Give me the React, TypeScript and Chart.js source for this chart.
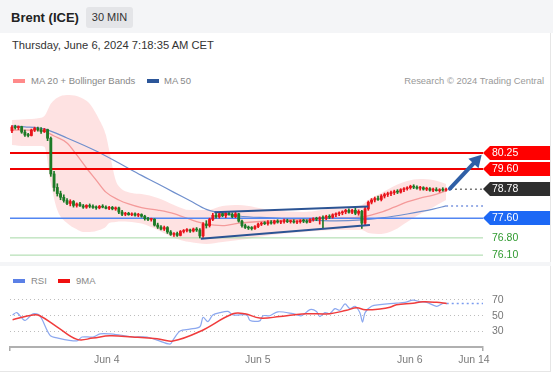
import React, { useEffect, useRef } from "react";
import { Chart, registerables } from "chart.js";

Chart.register(...registerables);

const FONT = "'Liberation Sans', Arial, Helvetica, sans-serif";

// ---------- x axis: 30-minute bar index ----------
const X_MIN = -0.6;
const X_MAX = 145.4;
const X_TICK_POS = [29.3, 75.9, 122.8, 142.6];
const X_TICK_LABELS = ["Jun 4", "Jun 5", "Jun 6", "Jun 14"];

// ---------- price axis ----------
const Y_MIN = 75.82;
const Y_MAX = 82.81;

// ---------- candles ----------
const OPEN = [
  81.15, 81.30, 81.28, 81.32, 81.10, 80.98, 80.96, 81.18, 81.25, 81.20, 81.12,
  81.20, 80.85, 79.40, 78.85, 78.60, 78.45, 78.32, 78.20, 78.28, 78.12,
  78.18, 78.10, 78.05, 78.12, 78.08, 78.04, 78.02, 78.08, 78.05, 78.00,
  78.04, 77.98, 78.02, 77.85, 77.76, 77.80, 77.74, 77.78, 77.72, 77.75,
  77.68, 77.58, 77.55, 77.56, 77.32, 77.24, 77.16, 77.22, 77.04, 76.94,
  76.98, 76.90, 77.06, 77.10, 77.12, 77.08, 77.16, 77.12, 76.88, 77.36,
  77.30, 77.55, 77.72, 77.66, 77.78, 77.70, 77.80, 77.76, 77.66, 77.78,
  77.48, 77.30, 77.22, 77.20, 77.18, 77.26, 77.36, 77.40, 77.38, 77.44,
  77.40, 77.48, 77.44, 77.46, 77.50, 77.46, 77.48, 77.44, 77.46, 77.50,
  77.48, 77.44, 77.54, 77.58, 77.56, 77.62, 77.60, 77.68, 77.64, 77.74,
  77.78, 77.82, 77.86, 77.92, 77.84, 77.92, 77.80, 77.88, 77.40, 77.98,
  78.25, 78.34, 78.40, 78.36, 78.50, 78.56, 78.60, 78.64, 78.68, 78.66,
  78.76, 78.80, 78.84, 78.90, 78.86, 78.82, 78.84, 78.78, 78.80, 78.74,
  78.76, 78.72, 78.76, 78.74,
];
const HIGH = [
  81.36, 81.38, 81.35, 81.34, 81.18, 81.05, 81.22, 81.30, 81.30, 81.28, 81.25,
  81.22, 80.90, 79.50, 79.00, 78.70, 78.55, 78.40, 78.35, 78.32, 78.22,
  78.25, 78.16, 78.15, 78.18, 78.14, 78.10, 78.12, 78.15, 78.10, 78.08,
  78.08, 78.06, 78.05, 77.92, 77.84, 77.84, 77.82, 77.82, 77.80, 77.78,
  77.72, 77.64, 77.60, 77.58, 77.40, 77.30, 77.28, 77.26, 77.10, 77.02,
  77.04, 77.10, 77.14, 77.18, 77.16, 77.20, 77.22, 77.18, 77.42, 77.50,
  77.60, 77.80, 77.84, 77.82, 77.86, 77.84, 77.88, 77.82, 77.84, 77.80,
  77.52, 77.36, 77.28, 77.26, 77.30, 77.40, 77.44, 77.46, 77.50, 77.50,
  77.52, 77.54, 77.50, 77.56, 77.56, 77.52, 77.54, 77.50, 77.54, 77.56,
  77.54, 77.58, 77.62, 77.64, 77.66, 77.70, 77.72, 77.74, 77.78, 77.82,
  77.86, 77.90, 77.96, 77.98, 77.96, 78.00, 77.94, 77.92, 78.05, 78.30,
  78.40, 78.46, 78.50, 78.56, 78.62, 78.66, 78.70, 78.74, 78.76, 78.80,
  78.84, 78.88, 78.94, 78.96, 78.92, 78.90, 78.88, 78.86, 78.84, 78.82,
  78.84, 78.80, 78.84, 78.82,
];
const LOW = [
  81.08, 81.22, 81.20, 81.05, 80.92, 80.90, 80.94, 81.12, 81.14, 81.05, 81.08,
  80.75, 79.30, 78.70, 78.50, 78.35, 78.25, 78.15, 78.10, 78.05, 78.05,
  78.08, 78.00, 78.00, 78.02, 78.00, 77.96, 77.98, 78.02, 77.98, 77.95,
  77.94, 77.92, 77.78, 77.70, 77.70, 77.72, 77.70, 77.68, 77.66, 77.64,
  77.52, 77.50, 77.48, 77.28, 77.18, 77.12, 77.10, 76.98, 76.90, 76.86,
  76.86, 76.88, 77.00, 77.04, 77.02, 77.04, 77.06, 76.80, 76.82, 77.20,
  77.24, 77.50, 77.60, 77.60, 77.66, 77.62, 77.72, 77.62, 77.62, 77.44,
  77.24, 77.18, 77.14, 77.12, 77.14, 77.22, 77.30, 77.34, 77.32, 77.36,
  77.36, 77.40, 77.38, 77.40, 77.42, 77.40, 77.40, 77.38, 77.40, 77.42,
  77.40, 77.42, 77.48, 77.50, 77.36, 77.20, 77.54, 77.58, 77.60, 77.66,
  77.70, 77.74, 77.78, 77.80, 77.78, 77.74, 77.72, 77.18, 77.32, 77.92,
  78.18, 78.26, 78.32, 78.30, 78.42, 78.48, 78.52, 78.56, 78.60, 78.62,
  78.68, 78.74, 78.78, 78.80, 78.78, 78.74, 78.74, 78.72, 78.70, 78.68,
  78.70, 78.66, 78.70, 78.70,
];
const CLOSE = [
  81.30, 81.28, 81.32, 81.10, 80.98, 80.96, 81.18, 81.25, 81.20, 81.12, 81.20,
  80.85, 79.40, 78.85, 78.60, 78.45, 78.32, 78.20, 78.28, 78.12, 78.18,
  78.10, 78.05, 78.12, 78.08, 78.04, 78.02, 78.08, 78.05, 78.00, 78.04,
  77.98, 78.02, 77.85, 77.76, 77.80, 77.74, 77.78, 77.72, 77.75, 77.68,
  77.58, 77.55, 77.56, 77.32, 77.24, 77.16, 77.22, 77.04, 76.94, 76.98,
  76.90, 77.06, 77.10, 77.12, 77.08, 77.16, 77.12, 76.88, 77.36, 77.30,
  77.55, 77.72, 77.66, 77.78, 77.70, 77.80, 77.76, 77.66, 77.78, 77.48,
  77.30, 77.22, 77.20, 77.18, 77.26, 77.36, 77.40, 77.38, 77.44, 77.40,
  77.48, 77.44, 77.46, 77.50, 77.46, 77.48, 77.44, 77.46, 77.50, 77.48,
  77.44, 77.54, 77.58, 77.56, 77.62, 77.60, 77.68, 77.64, 77.74, 77.78,
  77.82, 77.86, 77.92, 77.84, 77.92, 77.80, 77.88, 77.40, 77.98, 78.25,
  78.34, 78.40, 78.36, 78.50, 78.56, 78.60, 78.64, 78.68, 78.66, 78.76,
  78.80, 78.84, 78.90, 78.86, 78.82, 78.84, 78.78, 78.80, 78.74, 78.76,
  78.72, 78.76, 78.74, 78.78,
];

// ---------- Bollinger bands (MA 20) ----------
const BAND_X = [0, 4, 8, 10, 12, 14, 17, 20, 22, 24, 27, 29, 30, 32, 33, 37, 40, 45, 50, 55, 60, 65, 70, 80, 90, 100, 108, 110, 114, 118, 122, 126, 130, 134];
const BAND_UPPER = [81.59, 81.62, 81.66, 81.75, 82.25, 82.50, 82.61, 82.57, 82.45, 82.25, 81.59, 80.98, 80.37, 79.15, 78.90, 78.62, 78.58, 78.42, 78.14, 77.93, 77.93, 78.10, 78.14, 77.93, 77.85, 78.01, 78.14, 78.34, 78.62, 78.91, 79.11, 79.19, 79.15, 78.99];
const BAND_LOWER = [80.58, 80.53, 80.53, 80.50, 79.03, 77.93, 77.40, 77.15, 77.04, 77.04, 77.12, 77.25, 77.40, 77.45, 77.47, 77.45, 77.38, 77.12, 76.80, 76.63, 76.55, 76.63, 76.71, 76.92, 77.04, 77.12, 77.12, 77.00, 76.96, 77.12, 77.45, 77.77, 78.05, 78.34];

const MA20_X = [0, 4, 8, 10, 13, 17, 20, 23, 26, 29, 33, 36, 40, 45, 50, 55, 60, 65, 70, 80, 90, 100, 108, 114, 118, 122, 126, 130, 134];
const MA20 = [81.18, 81.18, 81.18, 81.14, 80.94, 80.66, 80.17, 79.64, 79.15, 78.66, 78.34, 78.18, 78.03, 77.93, 77.79, 77.55, 77.36, 77.30, 77.40, 77.49, 77.55, 77.60, 77.65, 77.85, 78.05, 78.26, 78.42, 78.54, 78.71];

const MA50_X = [0, 4, 8, 10, 17, 26, 33, 40, 45, 50, 55, 60, 63, 70, 80, 90, 100, 108, 114, 122, 130, 134];
const MA50 = [81.35, 81.31, 81.27, 81.23, 80.86, 80.33, 79.84, 79.34, 79.00, 78.65, 78.31, 77.96, 77.85, 77.69, 77.61, 77.53, 77.49, 77.53, 77.61, 77.77, 77.97, 78.10];

// ---------- levels ----------
const RESISTANCES = [80.25, 79.6];
const PIVOT = 77.6;
const SUPPORTS = [76.8, 76.1];
const LAST_PRICE = 78.78;

// ---------- channel & arrow ----------
const CH_UP_X = [62.5, 110];
const CH_UP = [77.84, 78.08];
const CH_LO_X = [58.3, 110.5];
const CH_LO = [76.76, 77.32];
const ARROW_X = [135.2, 143.3];
const ARROW_Y = [78.8, 79.94];

// ---------- RSI ----------
const RSI_X = [0.2, 1.5, 4.0, 6.5, 8.6, 11.7, 14.2, 20.1, 21.6, 25, 27.2, 30.2, 33.3, 37.3, 41.7, 44.8, 48.8, 49.7, 51.9, 54.9, 58, 59, 60.5, 62, 64.2, 66.7, 68.2, 72.5, 73.5, 76.5, 77.5, 79.6, 82.1, 86.7, 89.4, 92, 94, 95, 96.6, 98.1, 99.7, 101.2, 102.8, 104.3, 105.9, 107.4, 108.2, 109, 111, 113.6, 116.7, 118.7, 121.3, 123.8, 125.9, 128, 131.1, 133, 134.2];
const RSI = [51, 54, 44, 52.5, 50, 25.5, 21.6, 18, 23, 23, 27, 27, 25.5, 23, 23, 19, 14, 19, 30.6, 33, 36, 48, 42.6, 51, 54, 55.5, 51, 51, 44, 43.5, 50, 50, 55, 52.6, 50, 57.7, 55.5, 49, 54, 52.6, 59, 57, 65, 59, 62, 53.9, 42, 54, 62, 64, 65.5, 66, 67, 69.7, 68, 67, 62, 65.5, 65.5];
const RSI_MA_X = [0.2, 6.5, 8.6, 13.9, 20.1, 25, 30.2, 37.3, 44.8, 49.7, 58, 68.2, 71.9, 76.5, 82.7, 86.7, 91, 98.1, 103.3, 106.4, 109, 113.6, 116.7, 118.7, 123.8, 126.9, 131.1, 134.2];
const RSI_MA = [45, 51, 50, 36, 20, 21.6, 24.6, 23, 20.7, 18, 30, 52.5, 52.5, 47, 49, 51, 52.6, 52.6, 57, 60, 57.7, 58.6, 60.7, 64, 66, 67.7, 67, 65.5];
const RSI_TICKS = [30, 50, 70];
const RSI_MIN = 10.3;
const RSI_MAX = 90.3;

const UP = "#e8141b";
const DOWN = "#1d7a26";

const pts = (xs: number[], ys: number[]) => xs.map((x, i) => ({ x, y: ys[i] }));
const hl = (v: number, from: number = X_MIN) => [
  { x: from, y: v },
  { x: X_MAX, y: v },
];

Chart.defaults.font.family = FONT;

const tagPlugin = {
  id: "priceTags",
  afterDatasetsDraw(chart: any) {
    const { ctx, chartArea, scales } = chart;
    const x0 = chartArea.right;
    const tags = [
      { v: RESISTANCES[0], fill: "#ff0000" },
      { v: RESISTANCES[1], fill: "#ff0000" },
      { v: LAST_PRICE, fill: "#2e2e2e" },
      { v: PIVOT, fill: "#1c68f5" },
      { v: SUPPORTS[0], text: "#2f9a2f" },
      { v: SUPPORTS[1], text: "#2f9a2f" },
    ];
    ctx.save();
    ctx.font = `10.5px ${FONT}`;
    ctx.textBaseline = "middle";
    ctx.textAlign = "left";
    tags.forEach((t: any) => {
      const y = Math.round(scales.y.getPixelForValue(t.v));
      if (t.fill) {
        ctx.fillStyle = t.fill;
        ctx.beginPath();
        ctx.moveTo(x0, y);
        ctx.lineTo(x0 + 7, y - 7);
        ctx.lineTo(x0 + 67, y - 7);
        ctx.lineTo(x0 + 67, y + 7);
        ctx.lineTo(x0 + 7, y + 7);
        ctx.closePath();
        ctx.fill();
        ctx.fillStyle = "#ffffff";
      } else {
        ctx.fillStyle = t.text;
      }
      ctx.fillText(t.v.toFixed(2), x0 + 9, y + 0.5);
    });
    ctx.restore();
  },
};

function MainChart() {
  const ref = useRef<HTMLCanvasElement>(null);
  useEffect(() => {
    if (!ref.current) return;
    const idx = CLOSE.map((_, i) => i);
    const col = (c: any) => (CLOSE[c.dataIndex] >= OPEN[c.dataIndex] ? UP : DOWN);
    const lastMa50 = MA50[MA50.length - 1];
    const lastMa50X = MA50_X[MA50_X.length - 1];
    const line = (data: any, color: string, width: number, order: number, extra: any = {}) => ({
      type: "line",
      data,
      borderColor: color,
      borderWidth: width,
      pointRadius: 0,
      fill: false,
      order,
      ...extra,
    });
    const chart = new Chart(ref.current, {
      type: "line",
      data: {
        datasets: [
          line(pts(BAND_X, BAND_UPPER), "rgba(0,0,0,0)", 0, 30, { cubicInterpolationMode: "monotone" }),
          line(pts(BAND_X, BAND_LOWER), "rgba(0,0,0,0)", 0, 30, {
            cubicInterpolationMode: "monotone",
            fill: "-1",
            backgroundColor: "rgba(248,110,110,0.2)",
          }),
          line(pts(MA50_X, MA50), "#6f8fcd", 1.2, 25, { cubicInterpolationMode: "monotone" }),
          line(hl(lastMa50, lastMa50X), "#7b97e0", 1.5, 25, { borderDash: [2, 3] }),
          line(pts(MA20_X, MA20), "#f49a9a", 1.3, 24, { cubicInterpolationMode: "monotone" }),
          line(hl(RESISTANCES[0]), "#f00000", 2, 20),
          line(hl(RESISTANCES[1]), "#f00000", 2, 20),
          line(hl(PIVOT), "#5286f2", 1.6, 20),
          line(hl(SUPPORTS[0]), "#a6d8a6", 1, 20),
          line(hl(SUPPORTS[1]), "#a6d8a6", 1, 20),
          line(hl(LAST_PRICE, ARROW_X[0]), "#777777", 1.5, 20, { borderDash: [2, 3] }),
          {
            type: "bar",
            data: idx.map((i) => ({ x: i, y: [LOW[i], HIGH[i]] })),
            backgroundColor: col,
            barThickness: 1,
            grouped: false,
            borderWidth: 0,
            order: 10,
          },
          {
            type: "bar",
            data: idx.map((i) => ({ x: i, y: [OPEN[i], CLOSE[i]] })),
            backgroundColor: col,
            barThickness: 2.2,
            minBarLength: 1,
            grouped: false,
            borderWidth: 0,
            order: 9,
          },
          line(pts(CH_UP_X, CH_UP), "#2c5494", 2, 5),
          line(pts(CH_LO_X, CH_LO), "#2c5494", 2, 5),
          line(pts(ARROW_X, ARROW_Y), "#2f5fa6", 4, 1, {
            pointRadius: [0, 8],
            pointStyle: "triangle",
            pointRotation: 43,
            pointBackgroundColor: "#2f5fa6",
            pointBorderColor: "#2f5fa6",
            pointBorderWidth: 0,
            borderCapStyle: "round",
          }),
        ] as any,
      },
      options: {
        animation: false,
        responsive: false,
        events: [],
        layout: { padding: { left: 10, right: 70, top: 8, bottom: 8 } },
        plugins: { legend: { display: false }, tooltip: { enabled: false } },
        scales: {
          x: { type: "linear", min: X_MIN, max: X_MAX, display: false, offset: false },
          y: { type: "linear", min: Y_MIN, max: Y_MAX, display: false },
        },
      } as any,
      plugins: [tagPlugin],
    });
    return () => chart.destroy();
  }, []);
  return <canvas ref={ref} width={553} height={188} style={{ position: "absolute", left: 0, top: 82 }} />;
}

function RsiChart() {
  const ref = useRef<HTMLCanvasElement>(null);
  useEffect(() => {
    if (!ref.current) return;
    const lastI = RSI.length - 1;
    const chart = new Chart(ref.current, {
      type: "line",
      data: {
        datasets: [
          {
            data: pts(RSI_MA_X, RSI_MA),
            borderColor: "#f03c3c",
            borderWidth: 1.5,
            pointRadius: 0,
            tension: 0.4,
            order: 1,
          },
          {
            data: pts(RSI_X, RSI),
            borderColor: "#8ca8ef",
            borderWidth: 1.2,
            pointRadius: 0,
            tension: 0.3,
            order: 2,
          },
          {
            data: hl(RSI[lastI], RSI_X[lastI]),
            borderColor: "#7b9cf0",
            borderWidth: 1.5,
            borderDash: [2, 3],
            pointRadius: 0,
            order: 3,
          },
        ] as any,
      },
      options: {
        animation: false,
        responsive: false,
        events: [],
        layout: { padding: { left: 10, right: 0, top: 0, bottom: 0 } },
        plugins: { legend: { display: false }, tooltip: { enabled: false } },
        scales: {
          x: {
            type: "linear",
            min: X_MIN,
            max: X_MAX,
            offset: false,
            afterBuildTicks: (s: any) => {
              s.ticks = [X_MIN, ...X_TICK_POS, X_MAX].map((v) => ({ value: v }));
            },
            afterFit: (s: any) => {
              s.height = 20;
              s.paddingLeft = 0;
              s.paddingRight = 0;
            },
            ticks: {
              autoSkip: false,
              maxRotation: 0,
              padding: 3,
              color: "#7a7a7a",
              font: { size: 10.5 },
              callback: (_v: any, i: number) => (i >= 1 && i <= X_TICK_LABELS.length ? X_TICK_LABELS[i - 1] : ""),
            },
            grid: {
              drawOnChartArea: false,
              drawTicks: true,
              tickLength: 4,
              lineWidth: 1.5,
              color: (c: any) => (c.index === 0 || c.index === X_TICK_POS.length + 1 ? "#aaaaaa" : "rgba(0,0,0,0)"),
            },
            border: { display: true, color: "#b0b0b0", width: 2 },
          },
          y: {
            type: "linear",
            position: "right",
            min: RSI_MIN,
            max: RSI_MAX,
            afterBuildTicks: (s: any) => {
              s.ticks = RSI_TICKS.map((v) => ({ value: v }));
            },
            afterFit: (s: any) => {
              s.width = 70;
              s.paddingTop = 0;
              s.paddingBottom = 0;
            },
            ticks: { padding: 9, color: "#777777", font: { size: 10.5 } },
            grid: { drawTicks: false, color: "#bdbdbd", lineWidth: 1 },
            border: { display: false, dash: [1, 3] },
          },
        },
      } as any,
    });
    return () => chart.destroy();
  }, []);
  return <canvas ref={ref} width={553} height={83} style={{ position: "absolute", left: 0, top: 284 }} />;
}

const abs = (s: any) => ({ position: "absolute" as const, ...s });

export default function App() {
  return (
    <div
      style={abs({
        left: 0,
        top: 0,
        width: 553,
        height: 375,
        background: "#ffffff",
        fontFamily: FONT,
        overflow: "hidden",
      })}
    >
      {/* header */}
      <div style={abs({ left: 0, top: 0, width: 553, height: 33, background: "#f4f5f7" })} />
      <div style={abs({ left: 11, top: 9, lineHeight: "17px", fontSize: 13, fontWeight: 700, color: "#222" })}>
        Brent (ICE)
      </div>
      <div
        style={abs({
          left: 86,
          top: 7,
          width: 47,
          height: 21,
          lineHeight: "21px",
          textAlign: "center",
          fontSize: 11,
          color: "#333",
          background: "#e4e5e8",
          borderRadius: 3,
        })}
      >
        30 MIN
      </div>
      {/* panel borders */}
      <div style={abs({ left: 550, top: 33, width: 1, height: 339, background: "#e6e6e6" })} />
      <div style={abs({ left: 0, top: 262, width: 551, height: 4, background: "#f4f5f7" })} />
      <div style={abs({ left: 0, top: 371, width: 551, height: 1, background: "#e6e6e6" })} />

      <div style={abs({ left: 12, top: 37, lineHeight: "16px", fontSize: 11.2, color: "#333", whiteSpace: "nowrap" })}>
        Thursday, June 6, 2024 7:18:35 AM CET
      </div>

      {/* main legend */}
      <div style={abs({ left: 13, top: 79, width: 12, height: 4, background: "#ff8a8a" })} />
      <div style={abs({ left: 31, top: 74, lineHeight: "14px", fontSize: 9.5, color: "#888", whiteSpace: "nowrap" })}>
        MA 20 + Bollinger Bands
      </div>
      <div style={abs({ left: 147, top: 79, width: 12, height: 4, background: "#2c5699" })} />
      <div style={abs({ left: 164, top: 74, lineHeight: "14px", fontSize: 9.5, color: "#888" })}>MA 50</div>
      <div style={abs({ right: 9, top: 74, lineHeight: "14px", fontSize: 9.4, color: "#999", whiteSpace: "nowrap" })}>
        Research © 2024 Trading Central
      </div>

      <MainChart />

      {/* RSI legend */}
      <div style={abs({ left: 13, top: 279, width: 12, height: 4, background: "#5b80e6" })} />
      <div style={abs({ left: 31, top: 274, lineHeight: "14px", fontSize: 9.5, color: "#888" })}>RSI</div>
      <div style={abs({ left: 58, top: 279, width: 12, height: 4, background: "#f01010" })} />
      <div style={abs({ left: 76, top: 274, lineHeight: "14px", fontSize: 9.5, color: "#888" })}>9MA</div>

      <RsiChart />
    </div>
  );
}
